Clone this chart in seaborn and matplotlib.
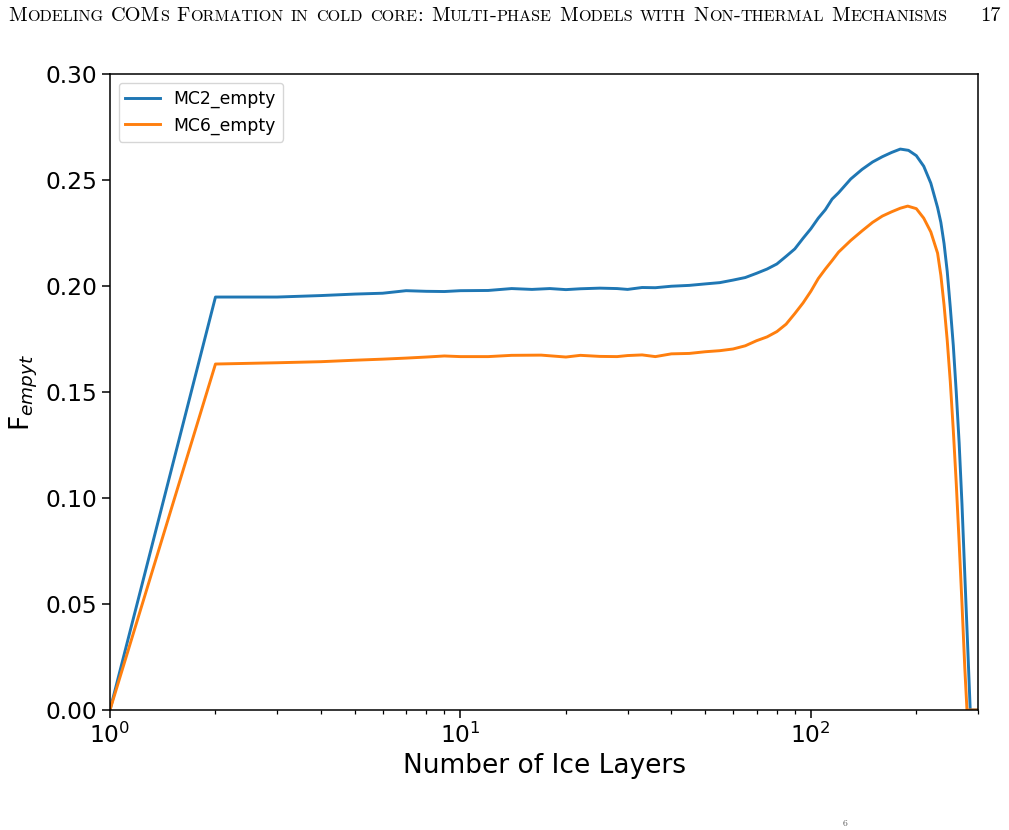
import numpy as np
import pandas as pd
import seaborn as sns
import matplotlib
matplotlib.use("Agg")
import matplotlib.pyplot as plt

# data (number of ice layers vs fraction of empty sites)
mc2_layers = [1, 2, 3, 4, 5, 6, 7, 8, 9, 10, 12, 14, 16, 18, 20, 22, 25, 28, 30,
              33, 36, 40, 45, 50, 55, 60, 65, 70, 75, 80, 85, 90, 95, 100, 105,
              110, 115, 120, 130, 140, 150, 160, 170, 180, 190, 200, 210, 220,
              230, 235, 240, 245, 250, 255, 260, 265, 270, 275, 280, 285, 300]
mc2_empty = [0.0, 0.1948, 0.1948, 0.1955, 0.1962, 0.1966, 0.1978, 0.1975, 0.1974,
             0.1978, 0.1979, 0.1988, 0.1984, 0.1988, 0.1983, 0.1987, 0.1990,
             0.1988, 0.1984, 0.1993, 0.1992, 0.1999, 0.2003, 0.2010, 0.2016,
             0.2028, 0.2040, 0.2060, 0.2080, 0.2104, 0.2140, 0.2175, 0.2225,
             0.2270, 0.2320, 0.2360, 0.2410, 0.2440, 0.2505, 0.2550, 0.2585,
             0.2610, 0.2630, 0.2646, 0.2640, 0.2615, 0.2565, 0.2485, 0.2370,
             0.2300, 0.2200, 0.2070, 0.1900, 0.1720, 0.1500, 0.1260, 0.0970,
             0.0640, 0.0320, 0.0, 0.0]

mc6_layers = [1, 2, 3, 4, 5, 6, 7, 8, 9, 10, 12, 14, 17, 20, 22, 25, 28, 30, 33,
              36, 40, 45, 50, 55, 60, 65, 70, 75, 80, 85, 90, 95, 100, 105, 110,
              115, 120, 130, 140, 150, 160, 170, 180, 189, 200, 210, 220, 230,
              235, 240, 245, 250, 255, 260, 265, 270, 275, 279, 300]
mc6_empty = [0.0, 0.1632, 0.1638, 0.1643, 0.1650, 0.1655, 0.1660, 0.1665, 0.1670,
             0.1667, 0.1667, 0.1673, 0.1674, 0.1665, 0.1673, 0.1668, 0.1667,
             0.1672, 0.1675, 0.1667, 0.1680, 0.1682, 0.1690, 0.1695, 0.1703,
             0.1718, 0.1742, 0.1760, 0.1785, 0.1820, 0.1870, 0.1920, 0.1975,
             0.2035, 0.2080, 0.2120, 0.2160, 0.2215, 0.2260, 0.2300, 0.2330,
             0.2350, 0.2367, 0.2377, 0.2365, 0.2320, 0.2255, 0.2155, 0.2050,
             0.1910, 0.1745, 0.1550, 0.1320, 0.1070, 0.0790, 0.0500, 0.0200,
             0.0, 0.0]

header = "Modeling COMs Formation in cold core: Multi-phase Models with Non-thermal Mechanisms"
page_no = "17"

df = pd.concat([
    pd.DataFrame({"layers": mc2_layers, "frac": mc2_empty, "model": "MC2_empty"}),
    pd.DataFrame({"layers": mc6_layers, "frac": mc6_empty, "model": "MC6_empty"}),
])

fig = plt.figure(figsize=(10.09, 8.30), dpi=100)
ax = fig.add_axes([0.109, 0.1446, 0.8603, 0.7662])
ax.set_xscale("log")

sns.lineplot(data=df, x="layers", y="frac", hue="model", ax=ax,
             palette=["#1f77b4", "#ff7f0e"], linewidth=2.1, sort=False,
             estimator=None)

ax.set_xlim(1, 300)
ax.set_ylim(0, 0.30)
ax.set_yticks(np.arange(0, 0.301, 0.05))
ax.set_yticklabels(["%.2f" % v for v in np.arange(0, 0.301, 0.05)])
ax.tick_params(axis="both", which="major", labelsize=16.8, length=5.5, width=1.1)
ax.tick_params(axis="both", which="minor", length=3.2, width=0.9)
for s in ax.spines.values():
    s.set_linewidth(1.1)

ax.set_xlabel("Number of Ice Layers", fontsize=19)
ax.set_ylabel("F$_{empyt}$", fontsize=19)
leg = ax.legend(loc="upper left", fontsize=12.4, title=None)

# page running header in (fake) small caps
renderer = fig.canvas.get_renderer()
big, small = 14.7, 11.6
runs = []
for ch in header:
    if ch.islower():
        sz, c = small, ch.upper()
    else:
        sz, c = big, ch
    if runs and runs[-1][1] == sz and c != " " and runs[-1][0][-1] != " ":
        runs[-1][0] += c
    else:
        runs.append([c, sz])

x0 = 8 / 1009
y0 = 1 - 21 / 830
xpos = x0
for txt, sz in runs:
    if txt == " ":
        xpos += 0.36 * big * 100 / 72 / 1009
        continue
    t = fig.text(xpos, y0, txt, fontsize=sz, family="cmr10", va="baseline", ha="left")
    bb = t.get_window_extent(renderer)
    xpos += bb.width / 1009 + 0.2 / 1009

fig.text(1001 / 1009, y0, page_no, fontsize=big, family="cmr10", va="baseline", ha="right")
fig.text(845 / 1009, 0.003, "6", fontsize=7, family="cmr10", va="bottom", ha="center", color="#555555")

fig.savefig("out.png", dpi=100)
